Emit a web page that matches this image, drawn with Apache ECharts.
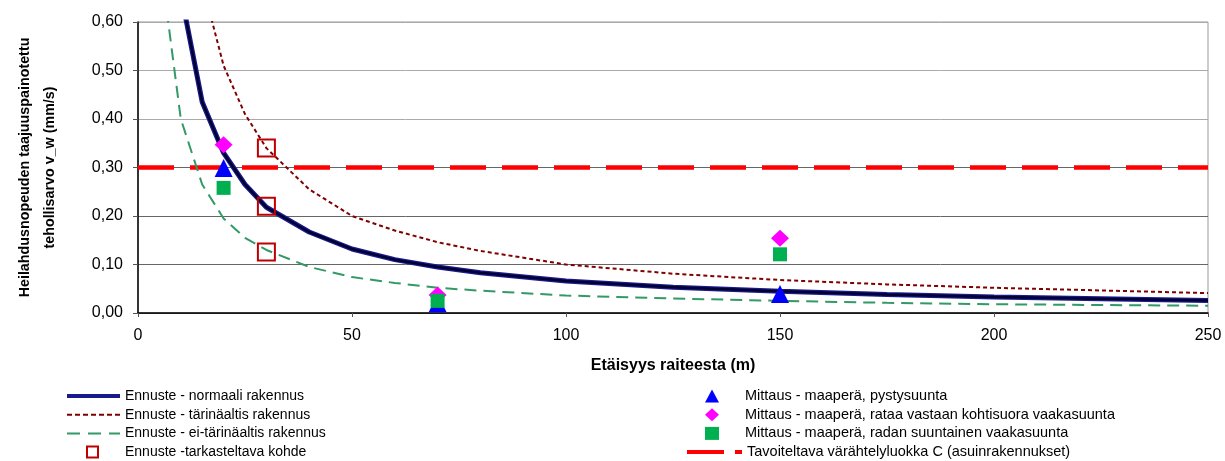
<!DOCTYPE html>
<html>
<head>
<meta charset="utf-8">
<script src="https://cdn.jsdelivr.net/npm/echarts@6/dist/echarts.min.js"></script>
<style>
  html, body { margin: 0; padding: 0; background: #fff; }
  #chart { width: 1225px; height: 461px; }
</style>
</head>
<body>
<div id="chart"></div>
<script>
// Etäisyys raiteesta (m) – ennustekäyrien laskentapisteet
const etaisyys = [5, 10, 15, 20, 25, 30, 40, 50, 60, 70, 80, 100, 125, 150, 175, 200, 250];
const normaali = [1.30, 0.66, 0.435, 0.33, 0.265, 0.218, 0.167, 0.132, 0.11, 0.095, 0.083, 0.066, 0.053, 0.045, 0.038, 0.033, 0.026];
const tarinaaltis = [2.0, 1.0, 0.68, 0.51, 0.41, 0.34, 0.255, 0.20, 0.17, 0.146, 0.128, 0.10, 0.081, 0.068, 0.059, 0.052, 0.041];
const eiTarinaaltis = [0.74, 0.40, 0.265, 0.195, 0.155, 0.13, 0.095, 0.074, 0.062, 0.052, 0.046, 0.036, 0.030, 0.025, 0.021, 0.018, 0.015];

// Tarkasteltava kohde (ennuste)
const kohdeX = [30, 30, 30];
const kohdeY = [0.34, 0.22, 0.126];

// Mittaukset
const mittausX = [20, 70, 150];
const pystyY = [0.299, 0.02, 0.039];
const kohtisuoraY = [0.347, 0.037, 0.154];
const suuntainenY = [0.258, 0.025, 0.121];

// Tavoitetaso
const tavoite = 0.30;

const yTicks = [0, 0.1, 0.2, 0.3, 0.4, 0.5, 0.6];
const xTicks = [0, 50, 100, 150, 200, 250];

const font = '"Liberation Sans", Arial, sans-serif';
const pairs = (xs, ys) => xs.map((x, i) => [x, ys[i]]);

const chart = echarts.init(document.getElementById('chart'));

const legendText = { fontFamily: font, fontSize: 14, color: '#000', lineHeight: 18 };
const legendTextRight = Object.assign({}, legendText, { fontSize: 14.5 });
const rowTop = 387;
const rowStep = 18.7;

const option = {
  animation: false,
  textStyle: { fontFamily: font },
  grid: {
    left: 138, right: 17, top: 22, bottom: 148,
    outerBoundsMode: 'none',
    containLabel: false,
    show: true, borderColor: '#999', borderWidth: 1
  },
  legend: [
    {
      // ennustekäyrät
      orient: 'vertical', left: 65, top: rowTop, padding: 0,
      itemWidth: 53, itemHeight: 12, itemGap: rowStep - 18,
      itemStyle: { opacity: 0 },
      textStyle: legendText,
      data: [
        { name: 'Ennuste - normaali rakennus', lineStyle: { width: 4 } },
        { name: 'Ennuste - tärinäaltis rakennus', lineStyle: { width: 2, type: [5, 3] } },
        { name: 'Ennuste - ei-tärinäaltis rakennus', lineStyle: { width: 2, type: [13, 8] } }
      ]
    },
    {
      orient: 'vertical', left: 86, top: rowTop + 3 * rowStep, padding: 0,
      itemWidth: 11, itemHeight: 11,
      textStyle: Object.assign({}, legendText, { padding: [0, 0, 0, 22] }),
      data: ['Ennuste -tarkasteltava kohde']
    },
    {
      // mittaukset
      orient: 'vertical', left: 705, top: rowTop, padding: 0,
      itemWidth: 14, itemHeight: 13, itemGap: rowStep - 18,
      textStyle: Object.assign({}, legendTextRight, { padding: [0, 0, 0, 21] }),
      data: [
        'Mittaus - maaperä, pystysuunta',
        'Mittaus - maaperä, rataa vastaan kohtisuora vaakasuunta',
        'Mittaus - maaperä, radan suuntainen vaakasuunta'
      ]
    },
    {
      orient: 'vertical', left: 685, top: rowTop + 3 * rowStep, padding: 0,
      itemWidth: 55, itemHeight: 12,
      itemStyle: { opacity: 0 },
      textStyle: legendTextRight,
      data: [{ name: 'Tavoiteltava värähtelyluokka C (asuinrakennukset)', lineStyle: { width: 4, type: [37, 11] } }]
    }
  ],
  xAxis: {
    type: 'value',
    min: xTicks[0], max: xTicks[xTicks.length - 1], interval: 50,
    name: 'Etäisyys raiteesta (m)',
    nameLocation: 'middle', nameGap: 45,
    nameTextStyle: { fontFamily: font, fontSize: 16, fontWeight: 'bold', color: '#000' },
    axisLine: { lineStyle: { color: '#000', width: 1.5 } },
    axisTick: { length: 4, lineStyle: { color: '#555' } },
    axisLabel: { fontFamily: font, fontSize: 16, color: '#000', margin: 15 },
    splitLine: { show: false }
  },
  yAxis: {
    type: 'value',
    min: yTicks[0], max: yTicks[yTicks.length - 1], interval: 0.1,
    name: 'Heilahdusnopeuden taajuuspainotettu\ntehollisarvo v_w (mm/s)',
    nameLocation: 'middle', nameGap: 75,
    nameTextStyle: { fontFamily: font, fontSize: 14.3, fontWeight: 'bold', color: '#000', lineHeight: 25 },
    axisLine: { show: true, lineStyle: { color: '#000', width: 1.5 } },
    axisTick: { show: true, length: 5, lineStyle: { color: '#555' } },
    axisLabel: {
      fontFamily: font, fontSize: 16, color: '#000', margin: 15,
      formatter: v => v.toFixed(2).replace('.', ',')
    },
    splitLine: {
      lineStyle: { color: ['#666', '#666', '#666', '#666', '#aaa', '#aaa', '#aaa'], width: 1 }
    }
  },
  series: [
    {
      name: 'Tavoiteltava värähtelyluokka C (asuinrakennukset)',
      type: 'line',
      data: [[xTicks[0], tavoite], [xTicks[xTicks.length - 1], tavoite]],
      symbol: 'none',
      lineStyle: { color: '#ff0000', width: 4.5, type: [36, 16] },
      itemStyle: { color: '#ff0000' },
      z: 2
    },
    {
      name: 'Ennuste - ei-tärinäaltis rakennus',
      type: 'line',
      data: pairs(etaisyys, eiTarinaaltis),
      symbol: 'none',
      lineStyle: { color: '#339966', width: 2, type: [12, 7] },
      itemStyle: { color: '#339966' },
      z: 3
    },
    {
      name: 'Ennuste - tärinäaltis rakennus',
      type: 'line',
      data: pairs(etaisyys, tarinaaltis),
      symbol: 'none',
      lineStyle: { color: '#800000', width: 2, type: [4, 3] },
      itemStyle: { color: '#800000' },
      z: 3
    },
    {
      name: 'Ennuste - normaali rakennus',
      type: 'line',
      data: pairs(etaisyys, normaali),
      symbol: 'none',
      lineStyle: { color: '#1a1a8c', width: 5 },
      itemStyle: { color: '#1a1a8c' },
      z: 4
    },
    {
      name: 'normaali-ydin',
      type: 'line',
      data: pairs(etaisyys, normaali),
      symbol: 'none',
      lineStyle: { color: '#000033', width: 2.5 },
      silent: true,
      z: 4
    },
    {
      name: 'Ennuste -tarkasteltava kohde',
      type: 'scatter',
      data: pairs(kohdeX, kohdeY),
      symbol: 'rect',
      symbolSize: 17,
      itemStyle: { color: 'rgba(0,0,0,0)', borderColor: '#c00000', borderWidth: 2, opacity: 1 },
      z: 5
    },
    {
      name: 'Mittaus - maaperä, pystysuunta',
      type: 'scatter',
      data: pairs(mittausX, pystyY),
      symbol: 'triangle',
      symbolSize: 18,
      itemStyle: { color: '#0000ff', opacity: 1 },
      z: 5
    },
    {
      name: 'Mittaus - maaperä, rataa vastaan kohtisuora vaakasuunta',
      type: 'scatter',
      data: pairs(mittausX, kohtisuoraY),
      symbol: 'diamond',
      symbolSize: [18, 17],
      itemStyle: { color: '#ff00ff', opacity: 1 },
      z: 5
    },
    {
      name: 'Mittaus - maaperä, radan suuntainen vaakasuunta',
      type: 'scatter',
      data: pairs(mittausX, suuntainenY),
      symbol: 'rect',
      symbolSize: 14,
      itemStyle: { color: '#00b050', opacity: 1 },
      z: 5
    }
  ]
};

chart.setOption(option);
window.addEventListener('resize', () => chart.resize());
</script>
</body>
</html>
